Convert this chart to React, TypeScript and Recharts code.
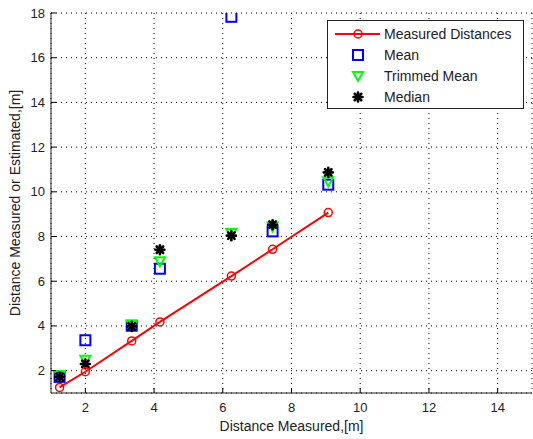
import { ComposedChart, Line, Scatter, XAxis, YAxis, CartesianGrid, Legend } from 'recharts'

// distances (x) of each test point, metres
const distances = [1.25, 2.0, 3.35, 4.17, 6.25, 7.45, 9.07]
const measured = [1.25, 1.95, 3.33, 4.18, 6.23, 7.43, 9.07]
const mean = [1.72, 3.36, 4.01, 6.56, 17.83, 8.23, 10.32]
const trimmedMean = [1.8, 2.49, 4.05, 6.89, 8.16, 8.45, 10.47]
const median = [1.72, 2.3, 3.98, 7.41, 8.04, 8.53, 10.87]

const xTicks = [2, 4, 6, 8, 10, 12, 14]
const yTicks = [2, 4, 6, 8, 10, 12, 14, 16, 18]

const legendItems = [
  { name: 'Measured Distances', kind: 'circle' },
  { name: 'Mean', kind: 'square' },
  { name: 'Trimmed Mean', kind: 'triangle' },
  { name: 'Median', kind: 'star' },
]

const data = distances.map((x, i) => ({
  x,
  measured: measured[i],
  mean: mean[i],
  trimmed: trimmedMean[i],
  median: median[i],
}))

const FONT = '"Liberation Sans", Arial, sans-serif'
const TICK = 5

function Marker({ kind, cx, cy }: { kind: string; cx: number; cy: number }) {
  if (kind === 'circle')
    return <circle cx={cx} cy={cy} r={4} fill="none" stroke="#ff0000" strokeWidth={1.5} />
  if (kind === 'square')
    return <rect x={cx - 5} y={cy - 5} width={10} height={10} fill="none" stroke="#0000ff" strokeWidth={2} />
  if (kind === 'triangle')
    return (
      <path
        d={`M${cx - 5},${cy - 4} L${cx + 5},${cy - 4} L${cx},${cy + 5} Z`}
        fill="none"
        stroke="#00ff00"
        strokeWidth={2}
      />
    )
  const r = 4.5
  const d = r * 0.72
  return (
    <g stroke="#000" strokeWidth={2.6} strokeLinecap="round">
      <line x1={cx} y1={cy - r} x2={cx} y2={cy + r} />
      <line x1={cx - r} y1={cy} x2={cx + r} y2={cy} />
      <line x1={cx - d} y1={cy - d} x2={cx + d} y2={cy + d} />
      <line x1={cx - d} y1={cy + d} x2={cx + d} y2={cy - d} />
    </g>
  )
}

const BottomTick = ({ x, y, payload }: any) => (
  <g>
    <line x1={x} y1={y} x2={x} y2={y - TICK} stroke="#000" />
    <text x={x} y={y + 14} textAnchor="middle" dominantBaseline="central" fontSize={13} fontFamily={FONT} fill="#222">
      {payload.value}
    </text>
  </g>
)

const LeftTick = ({ x, y, payload }: any) => (
  <g>
    <line x1={x} y1={y} x2={x + TICK} y2={y} stroke="#000" />
    <text x={x - 6} y={y} textAnchor="end" dominantBaseline="central" fontSize={13} fontFamily={FONT} fill="#222">
      {payload.value}
    </text>
  </g>
)

const TopTick = ({ x, y }: any) => <line x1={x} y1={y} x2={x} y2={y + TICK} stroke="#000" />
const RightTick = ({ x, y }: any) => <line x1={x} y1={y} x2={x - TICK} y2={y} stroke="#000" />

const YLabel = ({ viewBox }: any) => {
  const cy = viewBox ? viewBox.y + viewBox.height / 2 : 203
  return (
    <text
      x={15}
      y={cy}
      transform={`rotate(-90 15 ${cy})`}
      textAnchor="middle"
      dominantBaseline="central"
      fontSize={14}
      fontFamily={FONT}
      fill="#222"
    >
      Distance Measured or Estimated,[m]
    </text>
  )
}

const XLabel = ({ viewBox }: any) => {
  const cx = viewBox ? viewBox.x + viewBox.width / 2 : 291
  return (
    <text x={cx} y={426} textAnchor="middle" dominantBaseline="central" fontSize={14} fontFamily={FONT} fill="#222">
      Distance Measured,[m]
    </text>
  )
}

const LegendBox = () => (
  <svg width={197} height={89} style={{ display: 'block' }}>
    <rect x={0.5} y={0.5} width={196} height={88} fill="#fff" stroke="#222" />
    {legendItems.map((item, i) => {
      const cy = 14 + i * 21
      return (
        <g key={item.name}>
          {item.kind === 'circle' && <line x1={8} y1={cy} x2={53} y2={cy} stroke="#ff0000" strokeWidth={2} />}
          <Marker kind={item.kind} cx={31} cy={cy} />
          <text x={57} y={cy} dominantBaseline="central" fontSize={14} fontFamily={FONT} fill="#222">
            {item.name}
          </text>
        </g>
      )
    })}
  </svg>
)

export default function App() {
  return (
    <div style={{ position: 'absolute', left: 0, top: 0, width: 533, height: 439, background: '#fff' }}>
      <ComposedChart width={533} height={439} data={data} margin={{ top: 13, right: 1, bottom: 0, left: 0 }}>
        <CartesianGrid stroke="#000" strokeDasharray="1 4" />
        <XAxis
          dataKey="x"
          type="number"
          domain={[1, 15]}
          ticks={xTicks}
          allowDataOverflow
          height={46}
          tickSize={0}
          tickMargin={0}
          tickLine={false}
          stroke="#222"
          tick={<BottomTick />}
          label={<XLabel />}
        />
        <XAxis
          xAxisId="top"
          orientation="top"
          dataKey="x"
          type="number"
          domain={[1, 15]}
          ticks={xTicks}
          allowDataOverflow
          height={0}
          tickSize={0}
          tickMargin={0}
          tickLine={false}
          stroke="#222"
          tick={<TopTick />}
        />
        <YAxis
          type="number"
          domain={[1, 18]}
          ticks={yTicks}
          allowDataOverflow
          width={51}
          tickSize={0}
          tickMargin={0}
          tickLine={false}
          stroke="#222"
          tick={<LeftTick />}
          label={<YLabel />}
        />
        <YAxis
          yAxisId="right"
          orientation="right"
          type="number"
          domain={[1, 18]}
          ticks={yTicks}
          allowDataOverflow
          width={0}
          tickSize={0}
          tickMargin={0}
          tickLine={false}
          stroke="#222"
          tick={<RightTick />}
        />
        <Line
          dataKey="measured"
          stroke="#ff0000"
          strokeWidth={2}
          isAnimationActive={false}
          dot={(p: any) => <Marker key={p.index} kind="circle" cx={p.cx} cy={p.cy} />}
          activeDot={false}
        />
        <Scatter dataKey="mean" isAnimationActive={false} shape={(p: any) => <Marker kind="square" cx={p.cx} cy={p.cy} />} />
        <Scatter dataKey="trimmed" isAnimationActive={false} shape={(p: any) => <Marker kind="triangle" cx={p.cx} cy={p.cy} />} />
        <Scatter dataKey="median" isAnimationActive={false} shape={(p: any) => <Marker kind="star" cx={p.cx} cy={p.cy} />} />
        <Legend
          layout="horizontal"
          verticalAlign="middle"
          align="center"
          content={() => <LegendBox />}
          wrapperStyle={{ left: 327, top: 20, width: 197, height: 89 }}
        />
      </ComposedChart>
    </div>
  )
}
